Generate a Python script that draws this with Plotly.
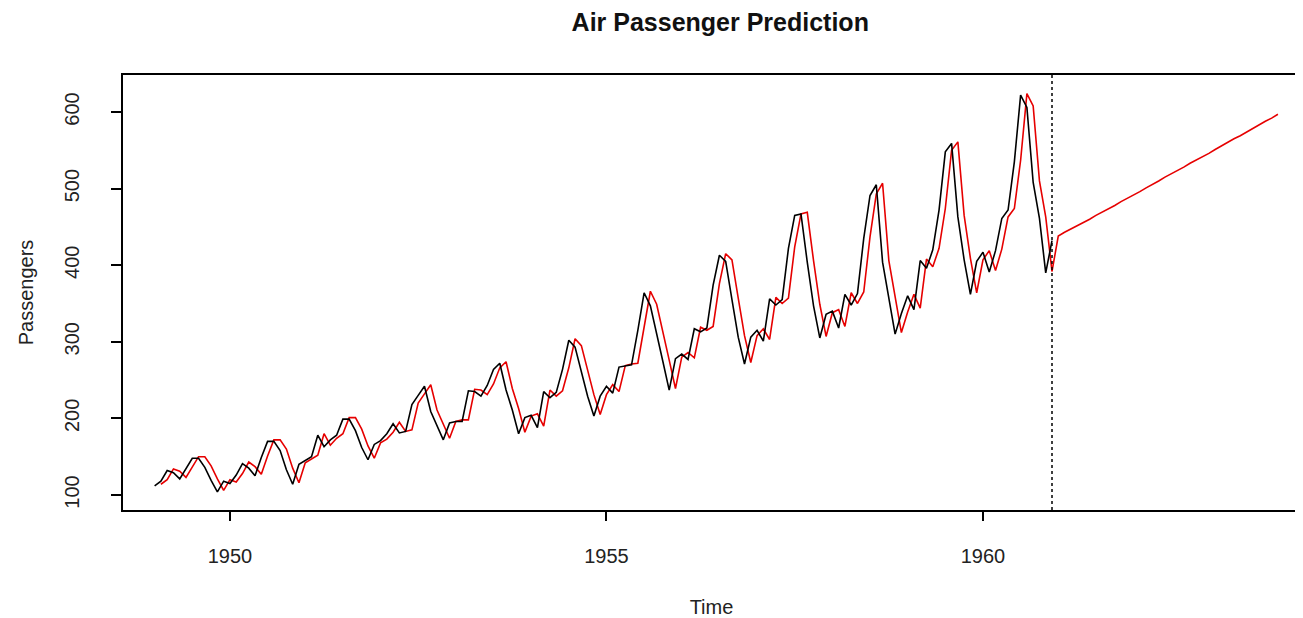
import numpy as np
import plotly.graph_objects as go

# ---- data ----
start_year = 1949
freq = 12
passengers = [
    112, 118, 132, 129, 121, 135, 148, 148, 136, 119, 104, 118,
    115, 126, 141, 135, 125, 149, 170, 170, 158, 133, 114, 140,
    145, 150, 178, 163, 172, 178, 199, 199, 184, 162, 146, 166,
    171, 180, 193, 181, 183, 218, 230, 242, 209, 191, 172, 194,
    196, 196, 236, 235, 229, 243, 264, 272, 237, 211, 180, 201,
    204, 188, 235, 227, 234, 264, 302, 293, 259, 229, 203, 229,
    242, 233, 267, 269, 270, 315, 364, 347, 312, 274, 237, 278,
    284, 277, 317, 313, 318, 374, 413, 405, 355, 306, 271, 306,
    315, 301, 356, 348, 355, 422, 465, 467, 404, 347, 305, 336,
    340, 318, 362, 348, 363, 435, 491, 505, 404, 359, 310, 337,
    360, 342, 406, 396, 420, 472, 548, 559, 463, 407, 362, 405,
    417, 391, 419, 461, 472, 535, 622, 606, 508, 461, 390, 432,
]
# fitted values (start Feb 1949)
fitted = [
    114, 120, 134, 131, 123, 137, 150, 150, 138, 121, 106,
    120, 117, 128, 143, 137, 127, 151, 172, 172, 160, 135, 116,
    142, 147, 152, 180, 165, 174, 180, 201, 201, 186, 164, 148,
    168, 173, 182, 195, 183, 185, 220, 232, 244, 211, 193, 174,
    196, 198, 198, 238, 237, 231, 245, 266, 274, 239, 213, 182,
    203, 206, 190, 237, 229, 236, 266, 304, 295, 261, 231, 205,
    231, 244, 235, 269, 271, 272, 317, 366, 349, 314, 276, 239,
    280, 286, 279, 319, 315, 320, 376, 415, 407, 357, 308, 273,
    308, 317, 303, 358, 350, 357, 424, 467, 469, 406, 349, 307,
    338, 342, 320, 364, 350, 365, 437, 493, 507, 406, 361, 312,
    339, 362, 344, 408, 398, 422, 474, 550, 561, 465, 409, 364,
    407, 419, 393, 421, 463, 474, 537, 624, 608, 510, 463, 392,
]
# forecast (Jan 1961 - Dec 1963)
forecast = [
    438, 443, 447, 451, 456, 460, 465, 469, 474, 478, 483, 487,
    492, 496, 501, 505, 510, 515, 519, 524, 528, 533, 537, 542,
    546, 551, 556, 560, 565, 569, 574, 579, 583, 588, 592, 597,
]
y_ticks = [100, 200, 300, 400, 500, 600]
x_ticks = [1950, 1955, 1960]

t_obs = start_year + np.arange(len(passengers)) / freq
t_fit = start_year + (np.arange(len(fitted)) + 1) / freq
t_fc = start_year + (len(passengers) + np.arange(len(forecast))) / freq
t_last = t_obs[-1]

RED = "#e60000"
fig = go.Figure()
fig.add_trace(go.Scatter(x=t_fit, y=fitted, mode="lines",
                         line=dict(color=RED, width=1.6), showlegend=False))
fig.add_trace(go.Scatter(x=t_obs, y=passengers, mode="lines",
                         line=dict(color="black", width=1.6), showlegend=False))
fig.add_trace(go.Scatter(x=np.concatenate([[t_fit[-1]], t_fc]),
                         y=[fitted[-1]] + forecast, mode="lines",
                         line=dict(color=RED, width=1.6), showlegend=False))
fig.add_vline(x=t_last, line=dict(color="black", width=1.5, dash="dot"))

font_family = "Liberation Sans, Arial, sans-serif"
fig.update_layout(
    width=1295, height=610,
    margin=dict(l=115, r=3, t=67, b=108),
    paper_bgcolor="white", plot_bgcolor="white",
    font=dict(family=font_family, color="#222", size=19),
    title=dict(text="<b>Air Passenger Prediction</b>", x=0.55, xanchor="center",
               y=0.977, yanchor="middle", font=dict(size=25, color="#111")),
)
fig.update_xaxes(
    range=[1948.58, 1964.21], tickvals=x_ticks, ticktext=[str(v) for v in x_ticks],
    automargin=False,
    showgrid=False, zeroline=False, showline=True, mirror=True,
    linecolor="black", linewidth=1.5, ticks="outside", ticklen=9, tickwidth=1.5,
    tickcolor="black", ticklabelstandoff=18, tickfont=dict(size=20),
    title=dict(text="Time", font=dict(size=20), standoff=34),
)
fig.update_yaxes(
    range=[80.4, 648.3], tickvals=y_ticks, ticktext=[str(v) for v in y_ticks],
    tickangle=-90, automargin=False,
    showgrid=False, zeroline=False, showline=True, mirror=True,
    linecolor="black", linewidth=1.5, ticks="outside", ticklen=10, tickwidth=1.5,
    tickcolor="black", ticklabelstandoff=24, tickfont=dict(size=20),
    title=dict(text="Passengers", font=dict(size=20), standoff=22),
)
fig.write_html("out.html")
